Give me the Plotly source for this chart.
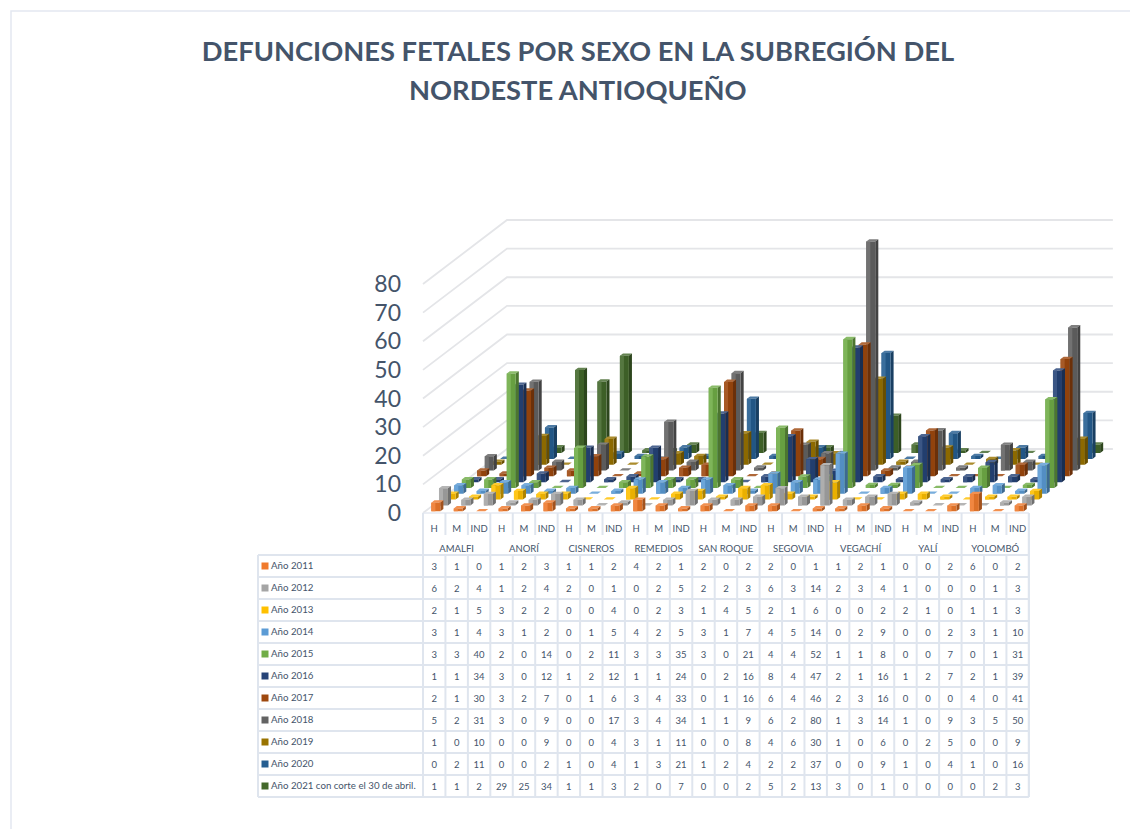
import plotly.graph_objects as go

TITLE_1 = "DEFUNCIONES FETALES POR SEXO EN LA SUBREGIÓN DEL"
TITLE_2 = "NORDESTE ANTIOQUEÑO"
municipios = ["AMALFI", "ANORÍ", "CISNEROS", "REMEDIOS", "SAN ROQUE", "SEGOVIA", "VEGACHÍ", "YALÍ", "YOLOMBÓ"]
sexos = ["H", "M", "IND"]
series_names = ["Año 2011", "Año 2012", "Año 2013", "Año 2014", "Año 2015", "Año 2016", "Año 2017",
                "Año 2018", "Año 2019", "Año 2020", "Año 2021 con corte el 30 de abril."]
y2011 = [3,1,0, 1,2,3, 1,1,2, 4,2,1, 2,0,2, 2,0,1, 1,2,1, 0,0,2, 6,0,2]
y2012 = [6,2,4, 1,2,4, 2,0,1, 0,2,5, 2,2,3, 6,3,14, 2,3,4, 1,0,0, 0,1,3]
y2013 = [2,1,5, 3,2,2, 0,0,4, 0,2,3, 1,4,5, 2,1,6, 0,0,2, 2,1,0, 1,1,3]
y2014 = [3,1,4, 3,1,2, 0,1,5, 4,2,5, 3,1,7, 4,5,14, 0,2,9, 0,0,2, 3,1,10]
y2015 = [3,3,40, 2,0,14, 0,2,11, 3,3,35, 3,0,21, 4,4,52, 1,1,8, 0,0,7, 0,1,31]
y2016 = [1,1,34, 3,0,12, 1,2,12, 1,1,24, 0,2,16, 8,4,47, 2,1,16, 1,2,7, 2,1,39]
y2017 = [2,1,30, 3,2,7, 0,1,6, 3,4,33, 0,1,16, 6,4,46, 2,3,16, 0,0,0, 4,0,41]
y2018 = [5,2,31, 3,0,9, 0,0,17, 3,4,34, 1,1,9, 6,2,80, 1,3,14, 1,0,9, 3,5,50]
y2019 = [1,0,10, 0,0,9, 0,0,4, 3,1,11, 0,0,8, 4,6,30, 1,0,6, 0,2,5, 0,0,9]
y2020 = [0,2,11, 0,0,2, 1,0,4, 1,3,21, 1,2,4, 2,2,37, 0,0,9, 1,0,4, 1,0,16]
y2021 = [1,1,2, 29,25,34, 1,1,3, 2,0,7, 0,0,2, 5,2,13, 3,0,1, 0,0,0, 0,2,3]
series_values = [y2011, y2012, y2013, y2014, y2015, y2016, y2017, y2018, y2019, y2020, y2021]
colors = ["#F07A2C", "#A5A5A5", "#FFC000", "#5B9BD5", "#70AD47", "#264478", "#9E480E", "#636363",
          "#997300", "#255E91", "#43682B"]
y_ticks = [0, 10, 20, 30, 40, 50, 60, 70, 80]

# ---- geometry (oblique projection on one cartesian axis pair) ----
W, H = 1130, 829
X0, COLW = 423.0, 22.44          # px of first category edge, px per category
Y0, UNIT = 513.0, 2.8625         # px of value 0 on the front plane, px per unit
NCOL, NSER = 27, len(series_values)
DX = 84.0 / COLW                 # total depth offset along x (category units)
DY = 64.0 / UNIT                 # total depth offset along y (value units)
BAR_W = 0.40                     # bar width as fraction of a category
BAR_D = 0.40                     # bar depth as fraction of a series step

def cx(px):
    return (px - X0) / COLW

def vy(py):
    return (Y0 - py) / UNIT

def shade(hex_c, f):
    r, g, b = (int(hex_c[i:i + 2], 16) for i in (1, 3, 5))
    if f >= 1:
        r, g, b = (int(v + (255 - v) * (f - 1)) for v in (r, g, b))
    else:
        r, g, b = (int(v * f) for v in (r, g, b))
    return f"rgb({r},{g},{b})"

fig = go.Figure()

def add_lines(xs, ys, color, width):
    fig.add_trace(go.Scatter(x=xs, y=ys, mode="lines", line=dict(color=color, width=width),
                             hoverinfo="skip", showlegend=False))

# walls
gx, gy = [], []
for t in y_ticks:
    gx += [0, DX, NCOL + DX, None]
    gy += [t, t + DY, t + DY, None]
add_lines(gx, gy, "#E4E5E8", 1.8)
add_lines([0, NCOL], [0, 0], "#E4E8F0", 1.5)

# bars, back series first
for k in range(NSER - 1, -1, -1):
    vals = series_values[k]
    faces = {"top": ([], []), "side": ([], []), "front": ([], []), "lit": ([], [])}
    step_x, step_y = DX / NSER, DY / NSER
    for c, v in enumerate(vals):
        xl = c + 0.5 - BAR_W / 2 + (k + 0.5 - BAR_D / 2) * step_x - 0.03
        xr = xl + BAR_W
        xm = xl + BAR_W * 0.45
        y0 = (k + 0.5 - BAR_D / 2) * step_y
        dx, dy = BAR_D * step_x, BAR_D * step_y
        def put(name, px, py):
            faces[name][0].extend(px + [px[0], None])
            faces[name][1].extend(py + [py[0], None])
        put("top", [xl, xr, xr + dx, xl + dx], [y0 + v, y0 + v, y0 + v + dy, y0 + v + dy])
        if v > 0:
            put("side", [xr, xr + dx, xr + dx, xr], [y0, y0 + dy, y0 + dy + v, y0 + v])
            put("front", [xl, xr, xr, xl], [y0, y0, y0 + v, y0 + v])
            put("lit", [xl, xm, xm, xl], [y0, y0, y0 + v, y0 + v])
    for name, f in (("top", 1.18), ("side", 0.68), ("front", 0.92), ("lit", 1.1)):
        fig.add_trace(go.Scatter(x=faces[name][0], y=faces[name][1], mode="lines", fill="toself",
                                 fillcolor=shade(colors[k], f), line=dict(width=0),
                                 hoverinfo="skip", showlegend=False, name=series_names[k]))

# data table
GRID = "#DFE5EE"
ROW0, ROWH = 555.0, 22.0
LEFT = 258.0
tx, ty = [], []
for r in range(NSER + 1):
    tx += [cx(LEFT), NCOL, None]
    ty += [vy(ROW0 + r * ROWH)] * 2 + [None]
tx += [cx(LEFT), cx(LEFT), None, NCOL, NCOL, None]
ty += [vy(ROW0), vy(ROW0 + NSER * ROWH), None, vy(513), vy(ROW0 + NSER * ROWH), None]
for c in range(NCOL + 1):
    top = 513 if c % 3 == 0 else 535
    bands = [(top, 555)] if c % 3 == 0 else [(513, 535)]
    bands.append((ROW0, ROW0 + NSER * ROWH))
    for a, b in bands:
        tx += [c, c, None]
        ty += [vy(a), vy(b), None]
add_lines(tx, ty, GRID, 2)

TXT = "#44546A"
FONT = "Lato"
def add_text(xs, ys, texts, size, pos="middle center", color=TXT):
    fig.add_trace(go.Scatter(x=xs, y=ys, text=texts, mode="text", textposition=pos,
                             textfont=dict(family=FONT, size=size, color=color),
                             hoverinfo="skip", showlegend=False, cliponaxis=False))

cols = list(range(NCOL))
add_text([c + 0.5 for c in cols], [vy(529.5)] * NCOL, [sexos[c % 3] for c in cols], 9.5)
add_text([3 * i + 1.5 for i in range(len(municipios))], [vy(550)] * len(municipios), municipios, 9.5)
cell_x, cell_y, cell_t = [], [], []
for r, vals in enumerate(series_values):
    for c, v in enumerate(vals):
        cell_x.append(c + 0.5)
        cell_y.append(vy(ROW0 + (r + 0.5) * ROWH + 1.5))
        cell_t.append(str(v))
add_text(cell_x, cell_y, cell_t, 9.5)
row_y = [vy(ROW0 + (r + 0.5) * ROWH + 1) for r in range(NSER)]
add_text([cx(271)] * NSER, row_y, series_names, 9.7, pos="middle right")
fig.add_trace(go.Scatter(x=[cx(265)] * NSER, y=[vy(ROW0 + (r + 0.5) * ROWH) for r in range(NSER)],
                         mode="markers",
                         marker=dict(symbol="square", size=7, color=colors, line=dict(width=0)),
                         hoverinfo="skip", showlegend=False))

# outer frame
fig.add_shape(type="path", xref="paper", yref="paper",
              path=f"M {11 / W} 0 L {11 / W} {1 - 11 / H} L 1 {1 - 11 / H}",
              line=dict(color="#E3E8F1", width=1.5))

title_font = dict(family=FONT, size=27.3, color=TXT, weight="bold")
fig.add_annotation(text=TITLE_2, xref="paper", yref="paper", x=578 / W, y=1 - 90 / H,
                   xanchor="center", yanchor="middle", showarrow=False, font=title_font)
fig.update_layout(
    width=W, height=H, margin=dict(l=0, r=0, t=0, b=0),
    paper_bgcolor="white", plot_bgcolor="white", showlegend=False,
    title=dict(text=TITLE_1, x=578 / W, xanchor="center", y=1 - 51 / H, yanchor="middle",
               font=title_font),
    xaxis=dict(range=[cx(0), cx(W)], visible=False, fixedrange=True),
    yaxis=dict(range=[vy(H), vy(0)], anchor="free", position=401 / W, tickmode="array",
               tickvals=y_ticks, showgrid=False, zeroline=False, showline=False, ticks="",
               tickfont=dict(family="Lato", size=23, color=TXT), fixedrange=True),
)
fig.write_html("out.html", config={"displayModeBar": False},
               post_script="document.body.style.margin='0';document.body.style.overflow='hidden';")
